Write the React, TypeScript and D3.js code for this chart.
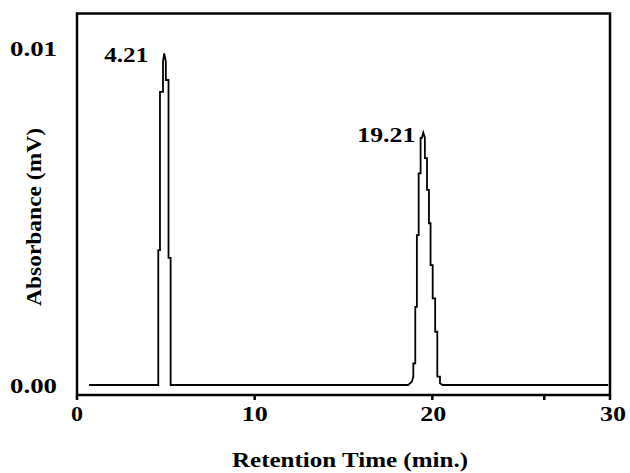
import React from "react";
import * as d3 from "d3";

// Chromatogram trace (retention time in min, absorbance in mV)
const times: number[] = [
  0.68, 4.575, 4.575, 4.67, 4.67, 4.84, 4.84, 4.91, 5.0, 5.0, 5.15, 5.15, 5.27, 5.27,
  18.64, 18.85, 18.93, 18.93, 19.04, 19.04, 19.13, 19.13, 19.23, 19.23, 19.34, 19.34,
  19.41, 19.49, 19.58, 19.58, 19.7, 19.7, 19.81, 19.81, 19.9, 19.9, 20.02, 20.02,
  20.16, 20.16, 20.28, 20.28, 20.43, 20.43, 20.58, 29.9,
];
const absorbance: number[] = [
  0, 0, 0.004, 0.004, 0.0087, 0.0087, 0.0096, 0.00984, 0.0096, 0.00905, 0.00905, 0.00377, 0.00377, 0,
  0, 0.0001, 0.00025, 0.00064, 0.00064, 0.00232, 0.00232, 0.00445, 0.00445, 0.00628, 0.00628, 0.00733,
  0.00733, 0.00749, 0.00733, 0.00673, 0.00673, 0.00579, 0.00579, 0.0048, 0.0048, 0.00356, 0.00356, 0.00257,
  0.00257, 0.00158, 0.00158, 0.00025, 0.00025, 0.00005, 0, 0,
];

const peakLabels: string[] = ["4.21", "19.21"];
const peakTimes: number[] = [4.91, 19.49];
const peakValues: number[] = [0.00984, 0.00749];

const xTicks: number[] = [0, 10, 20, 30];
const xMinorTicks: number[] = [26.3];
const yTicks: number[] = [0, 0.01];
const yTickLabels: string[] = ["0.00", "0.01"];

const W = 630;
const H = 473;
const left = 77;
const right = 610;
const top = 13.5;
const bottom = 395;

export default function App() {
  const x = d3.scaleLinear().domain([0, 30]).range([left, right]);
  const y = d3.scaleLinear().domain([0, 0.01]).range([385, 48]);

  const pts: [number, number][] = times.map((t, i) => [t, absorbance[i]]);
  const line = d3
    .line<[number, number]>()
    .x((d) => x(d[0]))
    .y((d) => y(d[1]));

  const font = "'Liberation Serif', 'Times New Roman', Times, serif";

  return (
    <div style={{ position: "absolute", left: 0, top: 0 }}>
      <svg width={W} height={H} style={{ display: "block", background: "#fff" }}>
        <rect
          x={left}
          y={top}
          width={right - left}
          height={bottom - top}
          fill="none"
          stroke="#000"
          strokeWidth={2.5}
        />
        {xTicks.concat(xMinorTicks).map((t, i) => (
          <line
            key={"t" + i}
            x1={x(t)}
            x2={x(t)}
            y1={bottom}
            y2={bottom + 5}
            stroke="#000"
            strokeWidth={2.5}
          />
        ))}
        <path d={line(pts) || ""} fill="none" stroke="#000" strokeWidth={1.8} />

        {xTicks.map((t, i) => (
          <text
            key={"xl" + i}
            x={x(t) + (t === 30 ? 3 : t === 20 ? 1 : 0)}
            y={421}
            textAnchor="middle"
            fontFamily={font}
            fontWeight="bold"
            fontSize={22}
            textLength={String(t).length === 1 ? 12 : 26}
            lengthAdjust="spacingAndGlyphs"
          >
            {String(t)}
          </text>
        ))}
        {yTicks.map((v, i) => (
          <text
            key={"yl" + i}
            x={10}
            y={y(v) + 8}
            fontFamily={font}
            fontWeight="bold"
            fontSize={22}
            textLength={47}
            lengthAdjust="spacingAndGlyphs"
          >
            {yTickLabels[i]}
          </text>
        ))}
        {peakLabels.map((s, i) => (
          <text
            key={"pl" + i}
            x={x(peakTimes[i]) - (i === 0 ? 16 : 8)}
            y={y(peakValues[i]) + 9}
            textAnchor="end"
            fontFamily={font}
            fontWeight="bold"
            fontSize={22}
            textLength={s.length === 4 ? 44 : 58}
            lengthAdjust="spacingAndGlyphs"
          >
            {s}
          </text>
        ))}
        <text
          x={350}
          y={467}
          textAnchor="middle"
          fontFamily={font}
          fontWeight="bold"
          fontSize={21}
          textLength={236}
          lengthAdjust="spacingAndGlyphs"
        >
          Retention Time (min.)
        </text>
        <text
          transform={`translate(41, 217) rotate(-90)`}
          textAnchor="middle"
          fontFamily={font}
          fontWeight="bold"
          fontSize={20}
          textLength={178}
          lengthAdjust="spacingAndGlyphs"
        >
          Absorbance (mV)
        </text>
      </svg>
    </div>
  );
}
